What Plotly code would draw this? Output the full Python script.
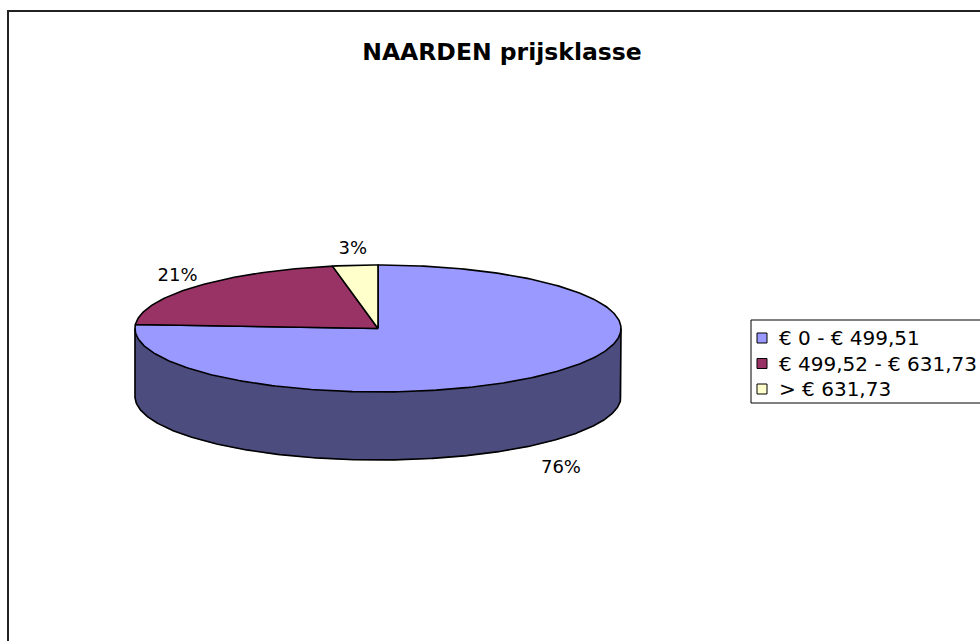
import numpy as np
import plotly.graph_objects as go

# ---- data ----
categories = ["€ 0 - € 499,51", "€ 499,52 - € 631,73", "> € 631,73"]
values = [76, 21, 3]
colors_top = ["#9999FF", "#993366", "#FFFFCC"]
colors_side = ["#4C4C7F", "#4D1933", "#80806A"]
title_text = "NAARDEN prijsklasse"

# ---- pie geometry (pixel space) ----
W, H = 980, 641
cx, cy = 378, 328.5
rx, ry = 243, 63.5
depth = 68
FONT = "DejaVu Sans, Verdana, sans-serif"

total = float(sum(values))
fr = np.cumsum([0] + values) / total
starts = 2 * np.pi * fr[:-1]
ends = 2 * np.pi * fr[1:]


def ex(t):
    return cx + rx * np.sin(t)


def ey(t, d=0.0):
    return cy - ry * np.cos(t) + d


fig = go.Figure()

# side walls (visible front half: t in [pi/2, 3pi/2])
for a, b, col in zip(starts, ends, colors_side):
    lo, hi = max(a, np.pi / 2), min(b, 3 * np.pi / 2)
    if hi <= lo:
        continue
    t = np.linspace(lo, hi, 200)
    xs = np.concatenate([ex(t), ex(t[::-1]), [ex(t[0])]])
    ys = np.concatenate([ey(t), ey(t[::-1], depth), [ey(t[0])]])
    fig.add_trace(go.Scatter(x=xs, y=ys, mode="lines", fill="toself",
                             fillcolor=col, line=dict(color=col, width=0.5),
                             hoverinfo="skip", showlegend=False))

# side outline: bottom arc and vertical edges
tb = np.linspace(np.pi / 2, 3 * np.pi / 2, 300)
fig.add_trace(go.Scatter(
    x=np.concatenate([[ex(np.pi / 2)], ex(tb), [ex(3 * np.pi / 2)]]),
    y=np.concatenate([[ey(np.pi / 2)], ey(tb, depth), [ey(3 * np.pi / 2)]]),
    mode="lines", line=dict(color="black", width=1.6),
    hoverinfo="skip", showlegend=False))

# top slices
for a, b, col, cat, v in zip(starts, ends, colors_top, categories, values):
    t = np.linspace(a, b, max(int(400 * (b - a) / (2 * np.pi)), 8))
    xs = np.concatenate([[cx], ex(t), [cx]])
    ys = np.concatenate([[cy], ey(t), [cy]])
    fig.add_trace(go.Scatter(x=xs, y=ys, mode="lines", fill="toself",
                             fillcolor=col, line=dict(color="black", width=1.6),
                             hoverinfo="text", text=f"{cat}: {v}%",
                             showlegend=False))

# percentage labels
kx, ky, front_extra = 1.1, 1.25, 14
lx, ly, lt = [], [], []
for a, b, v in zip(starts, ends, values):
    m = (a + b) / 2
    x = cx + rx * kx * np.sin(m)
    y = cy - ry * ky * np.cos(m) + ((depth + front_extra) if np.cos(m) < 0 else 0)
    lx.append(x)
    ly.append(y)
    lt.append(f"{round(100 * v / total)}%")
fig.add_trace(go.Scatter(x=lx, y=ly, mode="text", text=lt,
                         textfont=dict(family=FONT, size=18, color="black"),
                         hoverinfo="skip", showlegend=False))

# legend (drawn as a boxed key at the right)
leg_x0, leg_y0, leg_y1 = 751, 320, 403
row0, row_h = 338, 25.5
shapes = [
    dict(type="rect", xref="x", yref="y", x0=8, y0=11, x1=W + 20, y1=H + 20,
         line=dict(color="#222222", width=2), fillcolor="rgba(0,0,0,0)", layer="below"),
    dict(type="rect", xref="x", yref="y", x0=leg_x0, y0=leg_y0, x1=W + 20, y1=leg_y1,
         line=dict(color="black", width=1), fillcolor="white", layer="below"),
]
annotations = []
for i, (cat, col) in enumerate(zip(categories, colors_top)):
    yc = row0 + i * row_h
    shapes.append(dict(type="rect", xref="x", yref="y",
                       x0=leg_x0 + 6, x1=leg_x0 + 16, y0=yc - 5, y1=yc + 5,
                       line=dict(color="black", width=1), fillcolor=col))
    annotations.append(dict(x=leg_x0 + 26, y=yc, xref="x", yref="y", text=cat,
                            showarrow=False, xanchor="left", yanchor="middle",
                            font=dict(family=FONT, size=20, color="black")))

fig.update_layout(
    width=W, height=H,
    margin=dict(l=0, r=0, t=0, b=0, autoexpand=False),
    paper_bgcolor="white", plot_bgcolor="white",
    xaxis=dict(range=[0, W], visible=False, fixedrange=True),
    yaxis=dict(range=[H, 0], visible=False, fixedrange=True),
    title=dict(text=f"<b>{title_text}</b>", x=502 / W, xanchor="center",
               y=1 - 52 / H, yanchor="middle",
               font=dict(family=FONT, size=23.5, color="black")),
    shapes=shapes,
    annotations=annotations,
    showlegend=False,
)

fig.write_html("out.html", config={"displayModeBar": False},
               post_script="document.body.style.margin='0';")
